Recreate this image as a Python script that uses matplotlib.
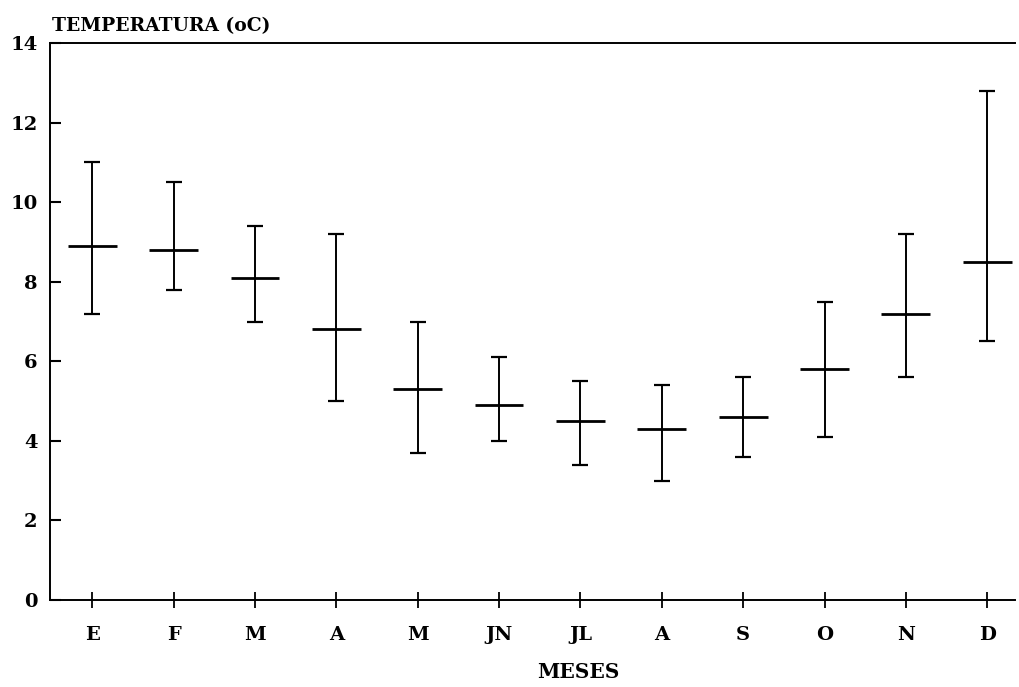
import matplotlib.pyplot as plt
import numpy as np

MONTHS = ["E", "F", "M", "A", "M", "JN", "JL", "A", "S", "O", "N", "D"]
MEAN = [8.9, 8.8, 8.1, 6.8, 5.3, 4.9, 4.5, 4.3, 4.6, 5.8, 7.2, 8.5]
HIGH = [11.0, 10.5, 9.4, 9.2, 7.0, 6.1, 5.5, 5.4, 5.6, 7.5, 9.2, 12.8]
LOW = [7.2, 7.8, 7.0, 5.0, 3.7, 4.0, 3.4, 3.0, 3.6, 4.1, 5.6, 6.5]
Y_TICKS = [0, 2, 4, 6, 8, 10, 12, 14]

FONT = "DejaVu Serif"


def main():
    x = np.arange(len(MONTHS))
    mean = np.array(MEAN)
    high = np.array(HIGH)
    low = np.array(LOW)

    fig = plt.figure(figsize=(10.19, 6.87), dpi=100)
    ax = fig.add_axes([0.049, 0.1266, 0.947, 0.8108])

    ax.errorbar(
        x,
        mean,
        yerr=[mean - low, high - mean],
        fmt="none",
        ecolor="black",
        elinewidth=1.4,
        capsize=6,
        capthick=1.6,
    )
    ax.hlines(mean, x - 0.3, x + 0.3, colors="black", linewidth=2.0)

    ax.set_xlim(-0.52, 11.34)
    ax.set_ylim(0, 14)

    ax.spines["right"].set_visible(False)
    for side in ("left", "top", "bottom"):
        ax.spines[side].set_linewidth(1.4)

    ax.set_yticks(Y_TICKS)
    ax.set_yticklabels([str(v) for v in Y_TICKS], fontfamily=FONT,
                       fontweight="bold", fontsize=14)
    ax.tick_params(axis="y", direction="in", length=8, width=1.5, pad=9)

    ax.set_xticks(x)
    ax.set_xticklabels(MONTHS, fontfamily=FONT, fontweight="bold", fontsize=14)
    ax.tick_params(axis="x", direction="inout", length=12, width=1.3, pad=13)

    ax.set_xlabel("MESES", fontfamily=FONT, fontweight="bold", fontsize=14.5)
    ax.xaxis.set_label_coords(0.548, -0.112)

    ax.text(0.002, 1.014, "TEMPERATURA (oC)", transform=ax.transAxes,
            fontfamily=FONT, fontweight="bold", fontsize=13.5,
            ha="left", va="bottom")

    fig.savefig("out.png", dpi=100)
    plt.close(fig)


if __name__ == "__main__":
    main()
